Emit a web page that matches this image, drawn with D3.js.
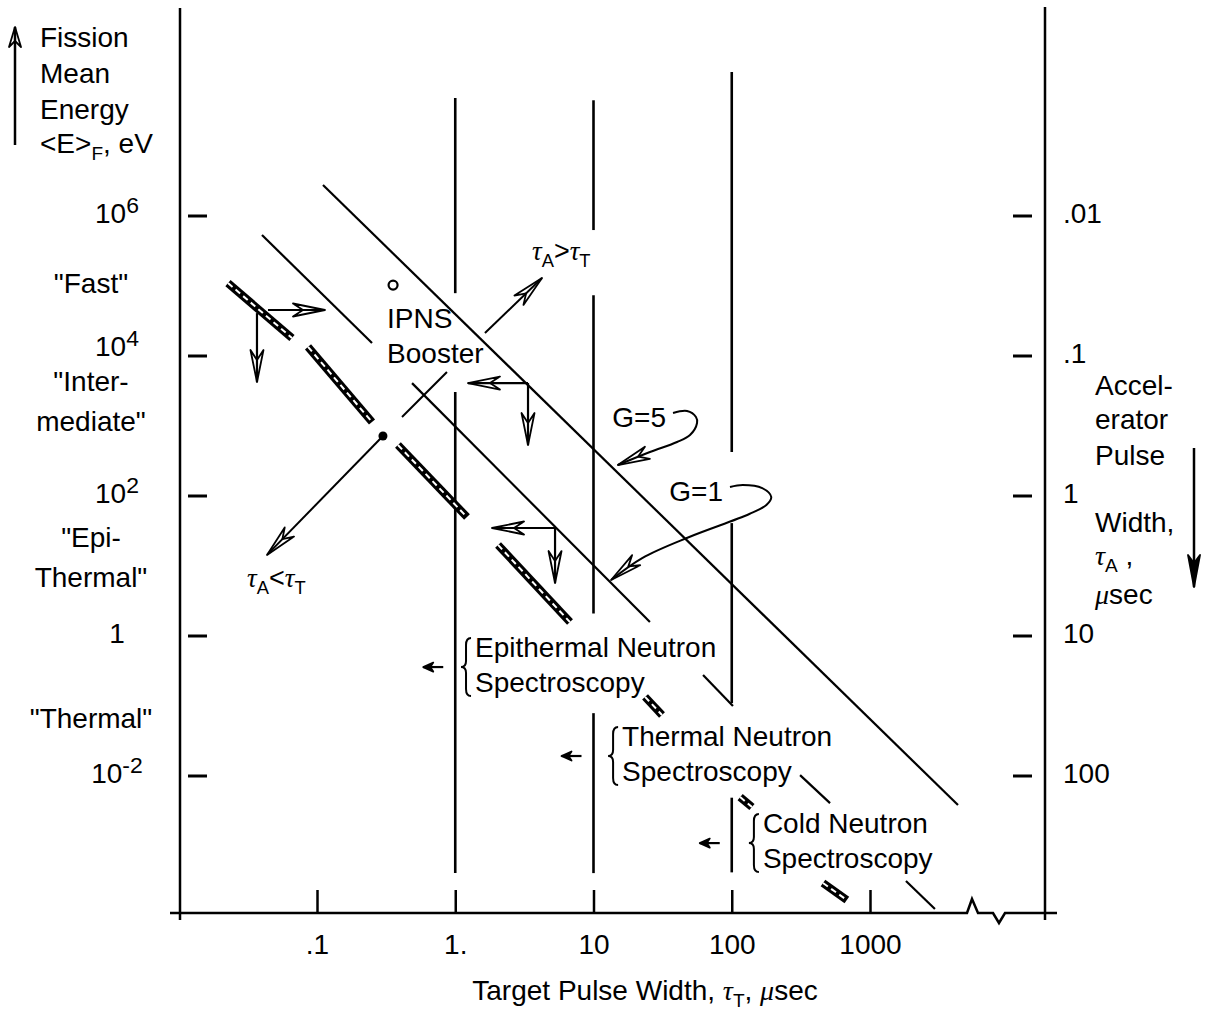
<!DOCTYPE html>
<html>
<head>
<meta charset="utf-8">
<script src="https://cdn.jsdelivr.net/npm/d3@7"></script>
<style>
  body { margin: 0; background: #fff; }
  svg { display: block; }
</style>
</head>
<body>
<div id="chart"></div>
<script>
// ---- data: tau_T and tau_A in usec, E in eV ----
const xTicks = [0.1, 1, 10, 100, 1000]
const xTickLabels = ['.1', '1.', '10', '100', '1000']

const eTicks = [1e6, 1e4, 1e2, 1, 1e-2]
const eTickBase = ['10', '10', '10', '1', '10']
const eTickSup = ['6', '4', '2', '', '-2']

const aTicks = [0.01, 0.1, 1, 10, 100]
const aTickLabels = ['.01', '.1', '1', '10', '100']

const regimeNames = [['"Fast"'], ['"Inter-', 'mediate"'], ['"Epi-', 'Thermal"'], ['"Thermal"']]
const regimeE = [1.1e5, 2.3e3, 13.5, 0.067]

// target pulse width lines, [E top, E bottom] pieces
const pulseTaus = [1, 10, 100]
const pulseSpans = [
  [[4.85e7, 7.9e4], [3.06e3, 4.1e-4]],
  [[4.5e7, 6.3e5], [7.4e4, 2.1], [0.079, 4.1e-4]],
  [[1.14e8, 425], [41, 0.11], [4.9e-3, 4.2e-4]]
]

// gain lines, [tau_T, E] end points
const g5Line = [[0.1105, 2.77e6], [4330, 3.85e-3]]
const g1Pieces = [
  [[0.040, 5.35e5], [0.25, 1.53e4]],
  [[0.487, 4.1e3], [25.6, 1.58]],
  [[62, 0.277], [102, 0.1]],
  [[312, 0.0103], [514, 4.1e-3]],
  [[1820, 3.16e-4], [2950, 1.26e-4]]
]

// hatched band pieces
const bandPieces = [
  [[0.0227, 1.1e5], [0.0659, 1.81e4]],
  [[0.0861, 1.35e4], [0.25, 1140]],
  [[0.385, 535], [1.216, 50]],
  [[2.04, 20], [6.76, 1.58]],
  [[23.6, 0.135], [31.3, 0.0744]],
  [[115, 5.0e-3], [140, 3.6e-3]],
  [[457, 2.96e-4], [680, 1.69e-4]]
]

// shift arrows, [from, to]
const shiftArrows = [
  [[0.0442, 4.54e4], [0.1142, 4.54e4]],
  [[0.0368, 4.1e4], [0.0368, 4250]],
  [[3.36, 4110], [1.236, 4110]],
  [[3.36, 4110], [3.36, 535]],
  [[5.27, 34.9], [1.845, 34.9]],
  [[5.27, 34.9], [5.27, 5.71]]
]

const ipnsPoint = [0.355, 1.03e5]
const crossPoint = [0.300, 720]
const crossPiece = [[0.412, 1345], [0.871, 5900]]
const upArrow = [[1.64, 2.13e4], [4.24, 1.3e5]]
const downArrow = [[0.300, 720], [0.0435, 14.4]]

const g5Curve = [[37.6, 1535], [47.5, 1640], [55.1, 1345], [56.1, 1104], [49.9, 743], [40.2, 591], [25.6, 425], [15.0, 277]]
const g1Curve = [[97.1, 134.5], [120, 143.6], [166, 130], [193, 96.8], [178, 74.4], [134, 55.3], [49.3, 26], [22.5, 13], [13.4, 6.31]]

const spectroNames = [['Epithermal Neutron', 'Spectroscopy'], ['Thermal Neutron', 'Spectroscopy'], ['Cold Neutron', 'Spectroscopy']]
const spectroLineTau = [1, 10, 100]
const spectroTextTau = [1.39, 16.1, 168]
const spectroE = [0.36, 0.0193, 0.0011]

// ---- layout ----
const W = 1205, H = 1012
const frame = {left: 180, right: 1045, top: 8, bottom: 913}

const x = d3.scaleLog().domain([0.1, 1000]).range([317, 870])
const y = d3.scaleLog().domain([1e6, 1e-2]).range([216, 776])
const yA = d3.scaleLog().domain([0.01, 100]).range([216, 776])

const svg = d3.select('#chart').append('svg')
  .attr('width', W).attr('height', H)
  .attr('font-family', '"Liberation Sans", Arial, Helvetica, sans-serif')
  .attr('font-size', 28)

const defs = svg.append('defs')
function marker(id, d, w, h, fill) {
  defs.append('marker').attr('id', id)
    .attr('viewBox', `0 0 ${w} ${h}`)
    .attr('markerUnits', 'userSpaceOnUse')
    .attr('markerWidth', w).attr('markerHeight', h)
    .attr('refX', w - 1).attr('refY', h / 2)
    .attr('orient', 'auto')
    .style('overflow', 'visible')
    .append('path').attr('d', d)
    .attr('fill', fill).attr('stroke', '#000').attr('stroke-width', 1.8)
    .attr('stroke-linejoin', 'round')
}
marker('feather', 'M33,8 L1,1.5 L11,8 L1,14.5 Z', 34, 16, 'none')
marker('open', 'M21,7 L1,1 L7,7 L1,13 Z', 22, 14, 'none')
marker('small', 'M10,5 L0,0.5 L3,5 L0,9.5 Z', 11, 10, '#000')
marker('bold', 'M33,7 L1,1 L9,7 L1,13 Z', 34, 14, '#000')

const line = d3.line().x(d => x(d[0])).y(d => y(d[1]))
const curve = d3.line().curve(d3.curveCatmullRom.alpha(0.5)).x(d => x(d[0])).y(d => y(d[1]))

function rich(x0, y0, parts, anchor = 'start', size = 28) {
  const t = svg.append('text').attr('x', x0).attr('y', y0)
    .attr('text-anchor', anchor).attr('font-size', size)
  let shift = 0
  parts.forEach(p => {
    const target = p.sub ? 7 : p.sup ? -10 : 0
    const ts = t.append('tspan').text(p.t).attr('dy', target - shift)
    shift = target
    if (p.sub) ts.attr('font-size', size * 0.68)
    if (p.sup) ts.attr('font-size', size * 0.82)
    if (p.it) ts.attr('font-style', 'italic').attr('font-family', '"Liberation Serif", serif')
  })
  return t
}

// ---- frame ----
const ax = svg.append('g').attr('stroke', '#000').attr('stroke-width', 2.5).attr('fill', 'none')
ax.append('line').attr('x1', frame.left).attr('x2', frame.left).attr('y1', frame.top).attr('y2', frame.bottom + 7)
ax.append('line').attr('x1', frame.right).attr('x2', frame.right).attr('y1', frame.top - 1).attr('y2', frame.bottom + 7)
ax.append('polyline').attr('points', [
  [frame.left - 10, frame.bottom], [967, frame.bottom], [972, frame.bottom - 14], [978, frame.bottom],
  [993, frame.bottom], [999, frame.bottom + 10], [1005, frame.bottom], [frame.right + 12, frame.bottom]
].join(' ')).attr('stroke-linejoin', 'miter')

// left energy ticks
svg.append('g').selectAll('line').data(eTicks).join('line')
  .attr('x1', 188).attr('x2', 207)
  .attr('y1', d => y(d)).attr('y2', d => y(d))
  .attr('stroke', '#000').attr('stroke-width', 3)
eTicks.forEach((d, i) => {
  const parts = [{t: eTickBase[i]}]
  if (eTickSup[i]) parts.push({t: eTickSup[i], sup: true})
  // the 10^4 label sits a little higher in the original
  rich(117, y(d) + (d === 1e4 ? 0 : 7), parts, 'middle')
})

// right accelerator ticks
svg.append('g').selectAll('line').data(aTicks).join('line')
  .attr('x1', 1013).attr('x2', 1032)
  .attr('y1', d => yA(d)).attr('y2', d => yA(d))
  .attr('stroke', '#000').attr('stroke-width', 3)
svg.append('g').selectAll('text').data(aTicks).join('text')
  .attr('x', 1063).attr('y', d => yA(d) + 7)
  .text((d, i) => aTickLabels[i])

// bottom axis
const xAxis = svg.append('g').attr('transform', `translate(0,${frame.bottom})`)
  .call(d3.axisBottom(x).tickValues(xTicks).tickFormat((d, i) => xTickLabels[i])
    .tickSizeInner(-23).tickSizeOuter(0).tickPadding(21))
xAxis.attr('font-size', 28).attr('font-family', null)
xAxis.select('.domain').remove()
xAxis.selectAll('.tick line').attr('stroke-width', 2.5)
xAxis.selectAll('.tick text').attr('fill', '#000')

// regime labels
regimeNames.forEach((lines, i) => {
  const yc = y(regimeE[i])
  const t = svg.append('text').attr('text-anchor', 'middle')
  lines.forEach((s, j) => {
    const off = lines.length === 1 ? 0 : (j === 0 ? -20 : 20)
    t.append('tspan').attr('x', 91).attr('y', yc + off + 10).text(s)
  })
})

// axis titles
;['Fission', 'Mean', 'Energy'].forEach((s, i) => {
  svg.append('text').attr('x', 40).attr('y', [47, 83, 119][i]).text(s)
})
rich(40, 153, [{t: '<E>'}, {t: 'F', sub: true}, {t: ', eV'}])
svg.append('line').attr('x1', 15).attr('x2', 15).attr('y1', 145).attr('y2', 27)
  .attr('stroke', '#000').attr('stroke-width', 2.5).attr('marker-end', 'url(#open)')

;['Accel-', 'erator', 'Pulse'].forEach((s, i) => {
  svg.append('text').attr('x', 1095).attr('y', [395, 429, 465][i]).text(s)
})
svg.append('text').attr('x', 1095).attr('y', 532).text('Width,')
rich(1095, 565, [{t: 'τ', it: true}, {t: 'A', sub: true}, {t: ' ,'}])
rich(1095, 604, [{t: 'μ', it: true}, {t: 'sec'}])
svg.append('line').attr('x1', 1194).attr('x2', 1194).attr('y1', 448).attr('y2', 587)
  .attr('stroke', '#000').attr('stroke-width', 2.5).attr('marker-end', 'url(#bold)')

rich(645, 1000, [{t: 'Target Pulse Width, '}, {t: 'τ', it: true}, {t: 'T', sub: true}, {t: ', '}, {t: 'μ', it: true}, {t: 'sec'}], 'middle')

// ---- plot marks ----
const g = svg.append('g').attr('fill', 'none').attr('stroke', '#000')

// pulse width verticals
pulseTaus.forEach((tau, i) => {
  g.append('g').selectAll('line').data(pulseSpans[i]).join('line')
    .attr('x1', x(tau)).attr('x2', x(tau))
    .attr('y1', d => y(d[0])).attr('y2', d => y(d[1]))
    .attr('stroke-width', 2.6)
})

// G lines
g.append('path').attr('d', line(g5Line)).attr('stroke-width', 2.2)
g.append('g').selectAll('path').data(g1Pieces).join('path')
  .attr('d', line).attr('stroke-width', 2.2)

// hatched bands
const bands = g.append('g')
bands.selectAll('.outer').data(bandPieces).join('path').attr('class', 'outer')
  .attr('d', line).attr('stroke-width', 8)
bands.selectAll('.inner').data(bandPieces).join('path').attr('class', 'inner')
  .attr('d', line).attr('stroke', '#fff').attr('stroke-width', 2)
  .attr('stroke-dasharray', '6,4')

// shift arrows
g.append('g').selectAll('path').data(shiftArrows).join('path')
  .attr('d', line).attr('stroke-width', 2.2).attr('marker-end', 'url(#feather)')

// tau_A vs tau_T diagonal
g.append('path').attr('d', line(crossPiece)).attr('stroke-width', 2)
g.append('path').attr('d', line(upArrow)).attr('stroke-width', 2).attr('marker-end', 'url(#feather)')
g.append('path').attr('d', line(downArrow)).attr('stroke-width', 2).attr('marker-end', 'url(#feather)')
svg.append('circle').attr('cx', x(crossPoint[0])).attr('cy', y(crossPoint[1])).attr('r', 4.5).attr('fill', '#000')
svg.append('circle').attr('cx', x(ipnsPoint[0])).attr('cy', y(ipnsPoint[1])).attr('r', 4.5)
  .attr('fill', 'none').attr('stroke', '#000').attr('stroke-width', 2.2)
svg.append('text').attr('x', x(ipnsPoint[0]) - 6).attr('y', y(ipnsPoint[1]) + 43).text('IPNS')
svg.append('text').attr('x', x(ipnsPoint[0]) - 6).attr('y', y(ipnsPoint[1]) + 78).text('Booster')

const up = upArrow[1], dn = downArrow[1]
rich(x(up[0]) - 10, y(up[1]) - 18, [{t: 'τ', it: true}, {t: 'A', sub: true}, {t: '>'}, {t: 'τ', it: true}, {t: 'T', sub: true}], 'start', 27)
rich(x(dn[0]) - 20, y(dn[1]) + 32, [{t: 'τ', it: true}, {t: 'A', sub: true}, {t: '<'}, {t: 'τ', it: true}, {t: 'T', sub: true}], 'start', 27)

// G labels with hook arrows
;[[g5Curve, 'G=5'], [g1Curve, 'G=1']].forEach(([pts, label]) => {
  g.append('path').attr('d', curve(pts)).attr('stroke-width', 2).attr('marker-end', 'url(#feather)')
  svg.append('text').attr('text-anchor', 'end')
    .attr('x', x(pts[0][0]) - 7).attr('y', y(pts[0][1]) + 14).text(label)
})

// spectroscopy regions
spectroNames.forEach((lines, i) => {
  const yc = y(spectroE[i])
  const tx = x(spectroTextTau[i])
  const lx = x(spectroLineTau[i])
  g.append('path').attr('d', d3.line()([[lx - 12, yc], [lx - 32, yc]]))
    .attr('stroke-width', 2.2).attr('marker-end', 'url(#small)')
  const bx = tx - 9
  g.append('path').attr('stroke-width', 2)
    .attr('d', `M${bx + 5},${yc - 29} Q${bx},${yc - 29} ${bx},${yc - 22} L${bx},${yc - 6} Q${bx},${yc} ${bx - 5},${yc} Q${bx},${yc} ${bx},${yc + 6} L${bx},${yc + 22} Q${bx},${yc + 29} ${bx + 5},${yc + 29}`)
  svg.append('text').attr('x', tx).attr('y', yc - 10).text(lines[0])
  svg.append('text').attr('x', tx).attr('y', yc + 25).text(lines[1])
})
</script>
</body>
</html>
